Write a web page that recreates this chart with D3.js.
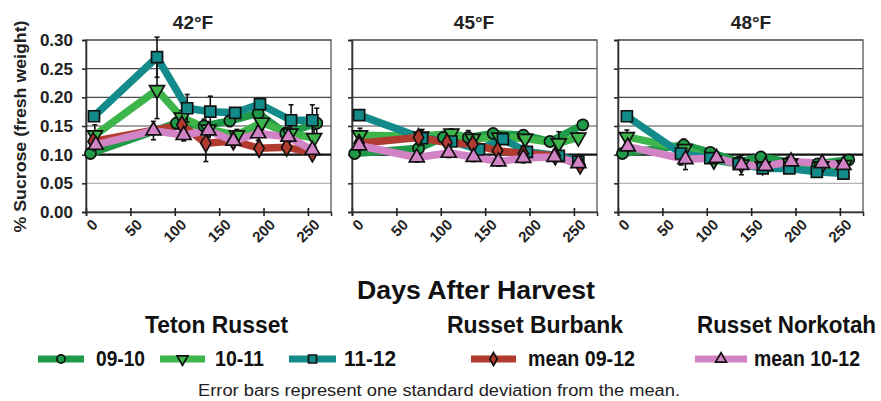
<!DOCTYPE html>
<html><head><meta charset="utf-8">
<script src="https://cdn.jsdelivr.net/npm/d3@7"></script>
<style>body{margin:0;background:#fff}svg{display:block;font-family:Arial,"Liberation Sans",sans-serif}</style>
</head><body><svg id="c" width="881" height="401"></svg>
<script>
// ---- data ----
const panels = ["42°F", "45°F", "48°F"];
const yTicks = [0, 0.05, 0.10, 0.15, 0.20, 0.25, 0.30];
const xTicks = [0, 50, 100, 150, 200, 250];
const seriesNames = ["09-10", "10-11", "11-12", "mean 09-12", "mean 10-12"];
const seriesColors = ["#1f9a48", "#3db54a", "#138b8b", "#b23b2f", "#d283c6"];
const seriesShapes = ["circle", "triDown", "square", "diamond", "triUp"];
const legendHeaders = ["Teton Russet", "Russet Burbank", "Russet Norkotah"];

// each: [day, value, sd]
const p42_0910 = [[5,0.102,0.006],[102,0.155,0.01],[133,0.150,0.012],[162,0.159,0.01],[194,0.172,0.01],[225,0.137,0.01],[260,0.155,0.026]];
const p42_1011 = [[10,0.134,0.018],[80,0.213,0.05],[108,0.165,0.012],[138,0.144,0.012],[170,0.134,0.01],[198,0.156,0.012],[230,0.137,0.012],[257,0.129,0.015]];
const p42_1112 = [[9,0.167,0.006],[80,0.270,0.035],[114,0.181,0.024],[140,0.175,0.027],[168,0.173,0.008],[196,0.188,0.01],[231,0.160,0.027],[255,0.160,0.027]];
const p42_burb = [[8,0.123,0.008],[108,0.152,0.01],[135,0.120,0.032],[166,0.124,0.008],[195,0.111,0.006],[226,0.113,0.006],[255,0.103,0.006]];
const p42_nork = [[11,0.117,0.008],[76,0.142,0.016],[110,0.134,0.01],[138,0.142,0.012],[166,0.124,0.01],[194,0.137,0.012],[228,0.131,0.01],[255,0.108,0.008]];

const p45_0910 = [[3,0.102,0.006],[75,0.111,0.008],[103,0.130,0.008],[131,0.130,0.012],[159,0.137,0.008],[193,0.134,0.008],[223,0.123,0.008],[260,0.152,0.008]];
const p45_1011 = [[9,0.134,0.012],[78,0.132,0.01],[112,0.137,0.008],[136,0.128,0.008],[166,0.130,0.008],[195,0.128,0.008],[233,0.120,0.02],[255,0.130,0.008]];
const p45_1112 = [[8,0.169,0.006],[79,0.129,0.015],[112,0.123,0.008],[143,0.109,0.008],[170,0.127,0.008],[197,0.105,0.006],[233,0.098,0.006],[255,0.088,0.006]];
const p45_burb = [[8,0.120,0.006],[75,0.130,0.01],[107,0.121,0.008],[136,0.118,0.008],[164,0.107,0.008],[193,0.102,0.006],[229,0.098,0.006],[257,0.082,0.006]];
const p45_nork = [[8,0.116,0.008],[73,0.095,0.008],[109,0.103,0.008],[137,0.096,0.008],[165,0.088,0.008],[193,0.094,0.008],[228,0.096,0.008],[255,0.085,0.006]];

const p48_0910 = [[5,0.102,0.006],[74,0.117,0.01],[104,0.104,0.006],[136,0.087,0.006],[161,0.096,0.006],[193,0.087,0.006],[225,0.084,0.006],[260,0.091,0.006]];
const p48_1011 = [[10,0.131,0.012],[75,0.110,0.012],[108,0.090,0.006],[139,0.083,0.006],[163,0.080,0.006],[194,0.085,0.006],[229,0.080,0.006],[255,0.082,0.006]];
const p48_1112 = [[10,0.167,0.006],[71,0.102,0.02],[104,0.094,0.006],[136,0.084,0.006],[163,0.076,0.006],[193,0.076,0.006],[224,0.070,0.006],[254,0.067,0.006]];
const p48_nork = [[11,0.114,0.008],[76,0.092,0.018],[111,0.094,0.008],[139,0.082,0.017],[166,0.080,0.006],[195,0.088,0.006],[230,0.085,0.006],[254,0.082,0.006]];

const panelData = [
  [p42_0910, p42_1011, p42_1112, p42_burb, p42_nork],
  [p45_0910, p45_1011, p45_1112, p45_burb, p45_nork],
  [p48_0910, p48_1011, p48_1112, null, p48_nork]
];

// ---- drawing ----
const svg = d3.select("#c");
const panelLeft = [86, 352, 618];
const titleCenter = [193, 474, 751];
const pw = 245, plotTop = 40, plotBottom = 212;
const y = d3.scaleLinear().domain([0, 0.30]).range([plotBottom, plotTop]);

function shapePath(shape, s) {
  const sym = {circle: d3.symbolCircle, square: d3.symbolSquare, diamond: d3.symbolDiamond,
               triUp: d3.symbolTriangle, triDown: d3.symbolTriangle}[shape];
  const area = {circle: s*s*0.80, square: s*s, diamond: s*s*0.75, triUp: s*s*0.8, triDown: s*s*0.8}[shape];
  return d3.symbol().type(sym).size(area)();
}
function fitText(sel, len) { return sel.attr("textLength", len).attr("lengthAdjust", "spacingAndGlyphs"); }

panels.forEach((title, pi) => {
  const x0 = panelLeft[pi];
  const x = d3.scaleLinear().domain([0, 276]).range([x0, x0 + pw]);
  const g = svg.append("g");

  yTicks.forEach(t => {
    if (t === 0 || t === 0.10) return;
    g.append("line").attr("x1", x0).attr("x2", x0 + pw).attr("y1", y(t)).attr("y2", y(t))
      .attr("stroke", t === 0.05 ? "#b5b5b5" : "#4a4a4a").attr("stroke-width", 1.1);
  });
  g.append("rect").attr("x", x0).attr("y", plotTop).attr("width", pw).attr("height", plotBottom - plotTop)
    .attr("fill", "none").attr("stroke", "#555").attr("stroke-width", 1.3);

  g.append("line").attr("x1", x0).attr("x2", x0 + pw).attr("y1", y(0.10)).attr("y2", y(0.10))
    .attr("stroke", "#111").attr("stroke-width", 2.3);

  const xa = g.append("g").attr("transform", `translate(0,${plotBottom})`)
    .call(d3.axisBottom(x).tickValues(xTicks).tickSize(4).tickFormat(""));
  xa.select(".domain").attr("stroke", "#333").attr("stroke-width", 1.6);
  xa.selectAll(".tick line").attr("y1", -4).attr("y2", 4).attr("stroke", "#222").attr("stroke-width", 1.6);
  xTicks.forEach(t => {
    g.append("text").attr("transform", `translate(${x(t) + 5},${plotBottom + 6}) rotate(-45)`)
      .attr("text-anchor", "end").attr("dy", "0.72em").attr("font-size", 15).attr("font-weight", "bold")
      .attr("fill", "#222").text(t);
  });

  const ya = g.append("g").attr("transform", `translate(${x0},0)`)
    .call(d3.axisLeft(y).tickValues(yTicks).tickSize(4).tickFormat(pi === 0 ? d3.format(".2f") : ""));
  ya.select(".domain").attr("stroke", "#333").attr("stroke-width", 1.6);
  ya.selectAll(".tick line").attr("stroke", "#222").attr("stroke-width", 1.5);
  ya.selectAll(".tick text").attr("font-size", 17).attr("font-weight", "bold").attr("fill", "#222")
    .attr("x", -13).attr("font-family", 'Arial,"Liberation Sans",sans-serif');

  g.append("text").attr("x", titleCenter[pi]).attr("y", 29).attr("text-anchor", "middle")
    .attr("font-size", 19).attr("font-weight", "bold").attr("fill", "#222").text(title);

  const line = d3.line().x(d => x(d[0])).y(d => y(d[1]));
  const sd = panelData[pi];
  sd.forEach((data, si) => {
    if (!data) return;
    g.append("path").datum(data).attr("d", line).attr("fill", "none")
      .attr("stroke", seriesColors[si]).attr("stroke-width", 7.5).attr("stroke-linejoin", "round").attr("stroke-linecap", "round");
  });
  sd.forEach((data, si) => {
    if (!data) return;
    data.forEach(d => {
      const cx = x(d[0]);
      g.append("line").attr("x1", cx).attr("x2", cx).attr("y1", y(d[1] - d[2])).attr("y2", y(d[1] + d[2]))
        .attr("stroke", "#111").attr("stroke-width", 1.6);
      [d[1] - d[2], d[1] + d[2]].forEach(v => g.append("line").attr("x1", cx - 2.5).attr("x2", cx + 2.5)
        .attr("y1", y(v)).attr("y2", y(v)).attr("stroke", "#111").attr("stroke-width", 1.6));
    });
  });
  sd.forEach((data, si) => {
    if (!data) return;
    data.forEach(d => {
      g.append("path").attr("d", shapePath(seriesShapes[si], 11))
        .attr("transform", `translate(${x(d[0])},${y(d[1])})` + (seriesShapes[si] === "triDown" ? " rotate(180)" : ""))
        .attr("fill", seriesColors[si]).attr("stroke", "#111").attr("stroke-width", 1.7);
    });
  });
});

fitText(svg.append("text").attr("transform", "translate(26,126.5) rotate(-90)")
  .attr("font-size", 16).attr("font-weight", "bold").attr("fill", "#222"), 212).attr("x", -106).attr("text-anchor", "start")
  .text("% Sucrose (fresh weight)");

fitText(svg.append("text").attr("x", 357).attr("y", 299)
  .attr("font-size", 26).attr("font-weight", "bold").attr("fill", "#111"), 238).text("Days After Harvest");

const headerX = [145, 447, 697], headerW = [143, 176, 179];
legendHeaders.forEach((h, i) => fitText(svg.append("text").attr("x", headerX[i]).attr("y", 333)
  .attr("font-size", 23).attr("font-weight", "bold").attr("fill", "#111"), headerW[i]).text(h));

const legLine = [[38, 84], [160, 205], [289, 336], [471, 516], [695, 747]];
const legText = [[96, 49], [215, 49], [344, 52], [528, 107], [754, 106]];
seriesNames.forEach((n, i) => {
  const ly = 359;
  const g = svg.append("g");
  g.append("line").attr("x1", legLine[i][0]).attr("x2", legLine[i][1]).attr("y1", ly).attr("y2", ly)
    .attr("stroke", seriesColors[i]).attr("stroke-width", 7);
  g.append("path").attr("d", shapePath(seriesShapes[i], 8))
    .attr("transform", `translate(${(legLine[i][0] + legLine[i][1]) / 2},${ly})` + (seriesShapes[i] === "triDown" ? " rotate(180)" : ""))
    .attr("fill", seriesColors[i]).attr("stroke", "#111").attr("stroke-width", 1.7);
  fitText(g.append("text").attr("x", legText[i][0]).attr("y", 366).attr("font-size", 22).attr("font-weight", "bold")
    .attr("fill", "#111"), legText[i][1]).text(n);
});

fitText(svg.append("text").attr("x", 198).attr("y", 395.5).attr("font-size", 16)
  .attr("fill", "#222"), 482).text("Error bars represent one standard deviation from the mean.");
</script></body></html>
